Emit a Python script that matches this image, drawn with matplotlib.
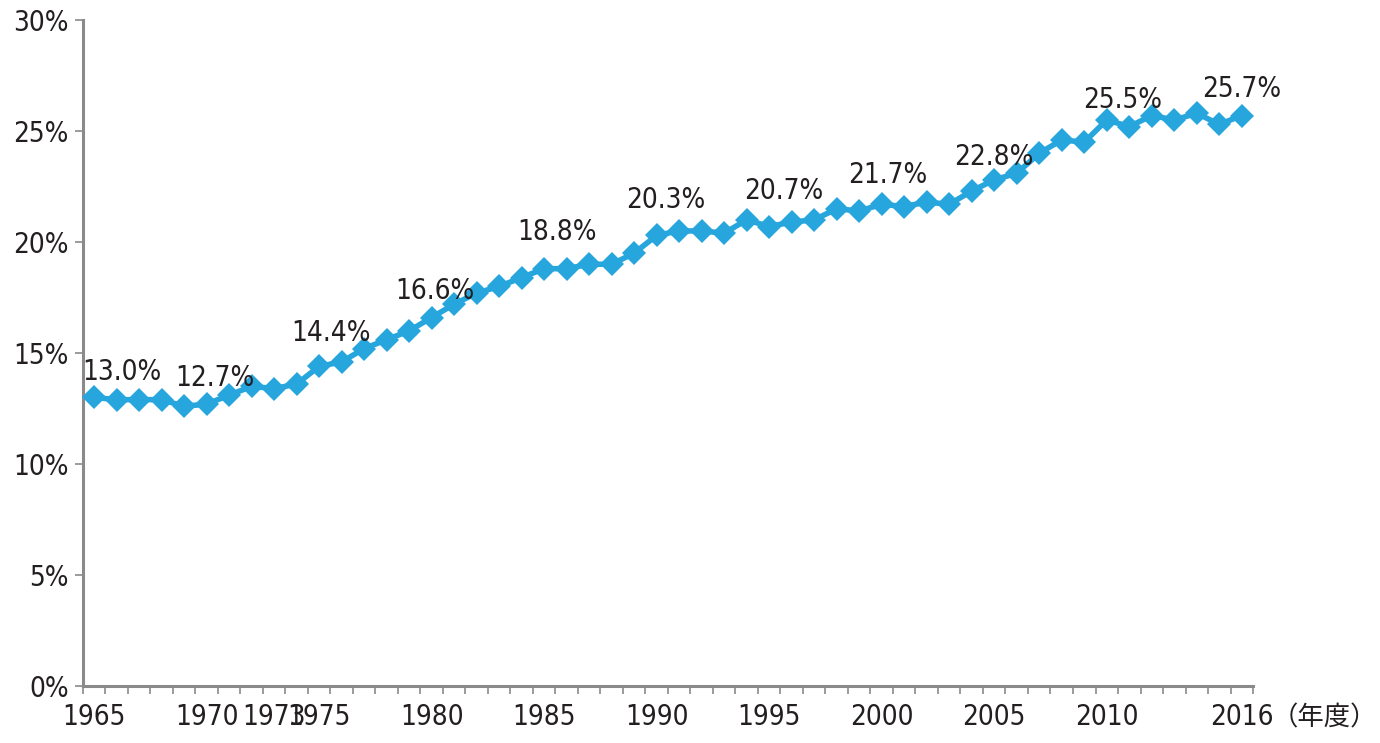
import matplotlib
matplotlib.use('Agg')
import matplotlib.pyplot as plt
from matplotlib.ticker import FixedLocator, FuncFormatter

plt.rcParams['font.family'] = ['DejaVu Sans', 'Noto Sans CJK JP']
plt.rcParams['font.stretch'] = 'condensed'

# data
years = list(range(1965, 2017))
values = [13.0, 12.9, 12.9, 12.9, 12.6, 12.7, 13.1, 13.5, 13.4, 13.6,
          14.4, 14.6, 15.2, 15.6, 16.0, 16.6, 17.2, 17.7, 18.0, 18.4,
          18.8, 18.8, 19.0, 19.0, 19.5, 20.3, 20.5, 20.5, 20.4, 21.0,
          20.7, 20.9, 21.0, 21.5, 21.4, 21.7, 21.6, 21.8, 21.7, 22.3,
          22.8, 23.1, 24.0, 24.6, 24.5, 25.5, 25.2, 25.7, 25.5, 25.8,
          25.3, 25.7]
tick_years = [1965, 1970, 1973, 1975, 1980, 1985, 1990, 1995, 2000, 2005, 2010, 2016]
label_years = [1965, 1970, 1975, 1980, 1985, 1990, 1995, 2000, 2005, 2010, 2016]
y_ticks = [0, 5, 10, 15, 20, 25, 30]

line_color = '#27A6DE'
axis_color = '#8a8a8a'
text_color = '#231f20'

fig = plt.figure(figsize=(13.8, 7.43), dpi=100)
ax = fig.add_axes([0.060, 0.0767, 0.848, 0.8963])

ax.plot(years, values, color=line_color, lw=4, marker='D', ms=12,
        markeredgewidth=0, zorder=3, clip_on=False)

# data labels (offsets in pixels, converted to points)
offsets = [(28, 25), (8, 26), (12, 33), (3, 27), (13, 37), (9, 35),
           (15, 36), (6, 29), (0, 23), (16, 20), (0, 27)]
for yr, (dx, dy) in zip(label_years, offsets):
    v = values[years.index(yr)]
    ax.annotate(f'{v:.1f}%', (yr, v), xytext=(dx * 0.72, dy * 0.72),
                textcoords='offset points', ha='center', va='center',
                fontsize=20, color=text_color)

ax.set_xlim(1964.5, 2016.5)
ax.set_ylim(0, 30)

ax.xaxis.set_major_locator(FixedLocator(tick_years))
ax.xaxis.set_minor_locator(FixedLocator([y + 0.5 for y in range(1964, 2017)]))
ax.tick_params(axis='x', which='major', length=0, pad=12, labelsize=20,
               labelcolor=text_color)
ax.tick_params(axis='x', which='minor', length=6, width=1.2, color=axis_color,
               direction='out')

ax.set_yticks(y_ticks)
ax.yaxis.set_major_formatter(FuncFormatter(lambda v, p: f'{v:.0f}%'))
ax.tick_params(axis='y', length=6, width=1.2, color=axis_color, pad=4,
               labelsize=20, labelcolor=text_color)

for s in ['top', 'right']:
    ax.spines[s].set_visible(False)
for s in ['left', 'bottom']:
    ax.spines[s].set_color(axis_color)
    ax.spines[s].set_linewidth(2.2)

fig.text(0.960, 0.034, '（年度）', ha='center', va='center', fontsize=19,
         color=text_color, family=['Noto Sans CJK JP'])

fig.savefig('out.png', dpi=100)
